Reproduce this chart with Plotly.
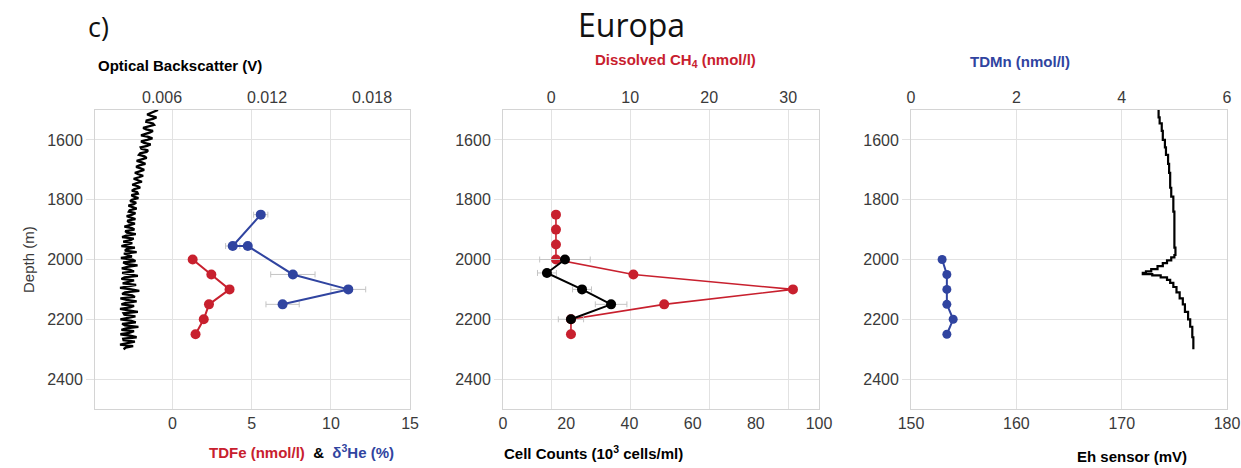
import plotly.graph_objects as go

W, H = 1241, 468

# ---------------- data ----------------
# Panel 1: optical backscatter profile (V) vs depth (m)
obs_depth = [1500, 1505, 1510, 1515, 1520, 1525, 1530, 1535, 1540, 1545,
             1550, 1555, 1560, 1565, 1570, 1575, 1580, 1585, 1590, 1595,
             1600, 1605, 1610, 1615, 1620, 1625, 1630, 1635, 1640, 1645,
             1650, 1655, 1660, 1665, 1670, 1675, 1680, 1685, 1690, 1695,
             1700, 1705, 1710, 1715, 1720, 1725, 1730, 1735, 1740, 1745,
             1750, 1755, 1760, 1765, 1770, 1775, 1780, 1785, 1790, 1795,
             1800, 1805, 1810, 1815, 1820, 1825, 1830, 1835, 1840, 1845,
             1850, 1855, 1860, 1865, 1870, 1875, 1880, 1885, 1890, 1895,
             1900, 1905, 1910, 1915, 1920, 1925, 1930, 1935, 1940, 1945,
             1950, 1955, 1960, 1965, 1970, 1975, 1980, 1985, 1990, 1995,
             2000, 2005, 2010, 2015, 2020, 2025, 2030, 2035, 2040, 2045,
             2050, 2055, 2060, 2065, 2070, 2075, 2080, 2085, 2090, 2095,
             2100, 2105, 2110, 2115, 2120, 2125, 2130, 2135, 2140, 2145,
             2150, 2155, 2160, 2165, 2170, 2175, 2180, 2185, 2190, 2195,
             2200, 2205, 2210, 2215, 2220, 2225, 2230, 2235, 2240, 2245,
             2250, 2255, 2260, 2265, 2270, 2275, 2280, 2285, 2290, 2295, 2300]
obs_volts = [0.00577, 0.00555, 0.00528, 0.00515, 0.00538, 0.00568, 0.00548, 0.00512, 0.00510, 0.00548,
             0.00555, 0.00522, 0.00492, 0.00510, 0.00548, 0.00532, 0.00498, 0.00480, 0.00522, 0.00545,
             0.00515, 0.00480, 0.00498, 0.00535, 0.00515, 0.00478, 0.00482, 0.00520, 0.00512, 0.00475,
             0.00468, 0.00500, 0.00512, 0.00478, 0.00455, 0.00485, 0.00505, 0.00470, 0.00452, 0.00478,
             0.00498, 0.00472, 0.00445, 0.00465, 0.00492, 0.00468, 0.00438, 0.00462, 0.00485, 0.00452,
             0.00430, 0.00462, 0.00475, 0.00440, 0.00428, 0.00458, 0.00462, 0.00425, 0.00440, 0.00465,
             0.00428, 0.00418, 0.00452, 0.00438, 0.00408, 0.00432, 0.00455, 0.00415, 0.00410, 0.00448,
             0.00430, 0.00398, 0.00425, 0.00448, 0.00402, 0.00410, 0.00445, 0.00412, 0.00385, 0.00428,
             0.00442, 0.00390, 0.00400, 0.00450, 0.00395, 0.00372, 0.00438, 0.00420, 0.00378, 0.00430,
             0.00405, 0.00368, 0.00445, 0.00398, 0.00388, 0.00455, 0.00382, 0.00410, 0.00428, 0.00365,
             0.00432, 0.00448, 0.00378, 0.00395, 0.00460, 0.00402, 0.00370, 0.00418, 0.00440, 0.00372,
             0.00415, 0.00462, 0.00385, 0.00368, 0.00440, 0.00402, 0.00375, 0.00452, 0.00410, 0.00360,
             0.00425, 0.00470, 0.00388, 0.00372, 0.00430, 0.00445, 0.00362, 0.00398, 0.00455, 0.00392,
             0.00368, 0.00440, 0.00418, 0.00360, 0.00408, 0.00462, 0.00380, 0.00385, 0.00448, 0.00402,
             0.00362, 0.00425, 0.00450, 0.00372, 0.00388, 0.00465, 0.00395, 0.00368, 0.00440, 0.00412,
             0.00362, 0.00418, 0.00455, 0.00378, 0.00380, 0.00445, 0.00398, 0.00360, 0.00435, 0.00392, 0.00380]

tdfe_depth = [2000, 2050, 2100, 2150, 2200, 2250]
tdfe_val = [1.27, 2.45, 3.6, 2.3, 1.97, 1.45]

he_depth = [1850, 1955, 1955, 2050, 2100, 2150]
he_val = [5.57, 3.8, 4.75, 7.6, 11.1, 6.95]
he_err = [0.45, 0.45, 0.2, 1.4, 1.1, 1.05]

# Panel 2
ch4_depth = [1850, 1900, 1950, 2000, 2050, 2100, 2150, 2200, 2250]
ch4_val = [0.6, 0.6, 0.6, 0.6, 10.4, 30.6, 14.3, 2.5, 2.5]

cell_depth = [2000, 2045, 2100, 2150, 2200]
cell_val = [19.6, 13.9, 25.0, 34.2, 21.5]
cell_err = [8.0, 3.0, 3.0, 5.0, 4.0]

# Panel 3
mn_depth = [2000, 2050, 2100, 2150, 2200, 2250]
mn_val = [0.59, 0.68, 0.68, 0.68, 0.80, 0.68]

eh_depth = [1500, 1525, 1545, 1570, 1600, 1625, 1650, 1680, 1710, 1760, 1790, 1840,
            1960, 1985, 1993, 2003, 2012, 2022, 2032, 2040, 2045, 2049, 2053, 2060,
            2068, 2078, 2092, 2110, 2130, 2150, 2175, 2200, 2225, 2260, 2300]
eh_val = [173.5, 173.6, 173.8, 173.9, 174.1, 174.2, 174.4, 174.5, 174.6, 174.7, 174.9, 175.0,
          175.1, 175.0, 174.7, 174.3, 173.9, 173.4, 172.8, 172.3, 172.0, 172.9, 173.7, 174.3,
          174.6, 174.9, 175.2, 175.5, 175.8, 176.0, 176.3, 176.5, 176.7, 176.8, 176.8]

depth_ticks = [1600, 1800, 2000, 2200, 2400]

# ---------------- styling ----------------
RED = "#c8202e"
BLUE = "#3044a0"
GRID = "#e2e2e2"
FRAME = "#d4d4d4"
TICKC = "#3a3a3a"
FONT = "Liberation Sans, Arial, sans-serif"

# observed horizontal placement of the drawn figure in the photographed window
X_OFF, X_SCALE = 13.0, 0.979


def px_x(p):
    return (p - X_OFF) / (X_SCALE * W)


def px_y(p):
    return 1 - p / H


panels = [(95, 410), (503, 819), (911, 1227)]
ytop, ybot = 110, 409
ydom = [px_y(ybot), px_y(ytop)]

fig = go.Figure()

# Panel 1
fig.add_trace(go.Scatter(x=obs_volts, y=obs_depth, mode="lines",
                         line=dict(color="black", width=2.3),
                         xaxis="x2", yaxis="y", showlegend=False))
fig.add_trace(go.Scatter(x=tdfe_val, y=tdfe_depth, mode="lines+markers",
                         line=dict(color=RED, width=2), marker=dict(color=RED, size=10),
                         xaxis="x", yaxis="y", showlegend=False))
fig.add_trace(go.Scatter(x=he_val, y=he_depth, mode="lines+markers",
                         line=dict(color=BLUE, width=2), marker=dict(color=BLUE, size=10),
                         error_x=dict(type="data", array=he_err, color="#c4c4c4", thickness=1, width=3),
                         xaxis="x", yaxis="y", showlegend=False))

# Panel 2 (CH4 on base top axis, cell counts on overlaid bottom axis -> drawn on top)
fig.add_trace(go.Scatter(x=ch4_val, y=ch4_depth, mode="lines+markers",
                         line=dict(color=RED, width=1.6), marker=dict(color=RED, size=10),
                         xaxis="x3", yaxis="y2", showlegend=False))
fig.add_trace(go.Scatter(x=cell_val, y=cell_depth, mode="lines+markers",
                         line=dict(color="black", width=2), marker=dict(color="black", size=10),
                         error_x=dict(type="data", array=cell_err, color="#c4c4c4", thickness=1, width=3),
                         xaxis="x4", yaxis="y2", showlegend=False))

# Panel 3
fig.add_trace(go.Scatter(x=mn_val, y=mn_depth, mode="lines+markers",
                         line=dict(color=BLUE, width=2), marker=dict(color=BLUE, size=9),
                         xaxis="x6", yaxis="y3", showlegend=False))
fig.add_trace(go.Scatter(x=eh_val, y=eh_depth, mode="lines",
                         line=dict(color="black", width=2.2, shape="vh"),
                         xaxis="x5", yaxis="y3", showlegend=False))

tickfont = dict(family=FONT, size=16, color=TICKC)


def x_axis(side, rng, tickvals, anchor, grid, dom=None, overlay=None):
    d = dict(side=side, range=rng, tickvals=tickvals, anchor=anchor,
             showgrid=grid, gridcolor=GRID, gridwidth=1,
             showline=True, linecolor=FRAME, linewidth=1,
             zeroline=False, ticks="", tickfont=tickfont, fixedrange=True)
    if dom is not None:
        d["domain"] = dom
    if overlay is not None:
        d["overlaying"] = overlay
    return d


def y_axis(anchor):
    return dict(domain=ydom, range=[2500, 1500], tickvals=depth_ticks, anchor=anchor,
                showgrid=True, gridcolor=GRID, gridwidth=1,
                showline=True, linecolor=FRAME, linewidth=1, mirror=True,
                zeroline=False, ticks="outside", ticklen=8, tickcolor=GRID,
                tickfont=tickfont, fixedrange=True)


d1 = [px_x(panels[0][0]), px_x(panels[0][1])]
d2 = [px_x(panels[1][0]), px_x(panels[1][1])]
d3 = [px_x(panels[2][0]), px_x(panels[2][1])]

fig.update_layout(
    width=W, height=H, autosize=False,
    margin=dict(l=0, r=0, t=0, b=0),
    paper_bgcolor="white", plot_bgcolor="white",
    font=dict(family=FONT, color=TICKC),
    xaxis=x_axis("bottom", [-4.9, 15], [0, 5, 10, 15], "y", True, dom=d1),
    xaxis2=x_axis("top", [0.00217, 0.02017], [0.006, 0.012, 0.018], "y", False, overlay="x"),
    yaxis=y_axis("x"),
    xaxis3=x_axis("top", [-6.1, 33.9], [0, 10, 20, 30], "y2", True, dom=d2),
    xaxis4=x_axis("bottom", [0, 100], [0, 20, 40, 60, 80, 100], "y2", False, overlay="x3"),
    yaxis2=y_axis("x3"),
    xaxis5=x_axis("bottom", [150, 180], [150, 160, 170, 180], "y3", True, dom=d3),
    xaxis6=x_axis("top", [0, 6], [0, 2, 4, 6], "y3", False, overlay="x5"),
    yaxis3=y_axis("x5"),
)
fig.update_layout(xaxis2=dict(tickformat=".3f"))

bold = dict(family=FONT, size=15, color="black")
ann = [
    dict(x=px_x(86), y=px_y(26), text="c)", xanchor="left", yanchor="middle",
         font=dict(family="Open Sans, sans-serif", size=27, color="#111")),
    dict(x=px_x(631), y=px_y(24), text="Europa", xanchor="center", yanchor="middle",
         font=dict(family="Open Sans, sans-serif", size=32, color="#111")),
    dict(x=px_x(96), y=px_y(66), text="<b>Optical Backscatter (V)</b>", xanchor="left", yanchor="middle",
         font=bold),
    dict(x=px_x(593), y=px_y(61), text="<b>Dissolved CH<sub>4</sub> (nmol/l)</b>", xanchor="left",
         yanchor="middle", font=dict(family=FONT, size=15, color=RED)),
    dict(x=px_x(968), y=px_y(62), text="<b>TDMn (nmol/l)</b>", xanchor="left", yanchor="middle",
         font=dict(family=FONT, size=15, color=BLUE)),
    dict(x=px_x(207), y=px_y(451),
         text="<b><span style='color:%s'>TDFe (nmol/l)</span>  &amp;  <span style='color:%s'>δ<sup>3</sup>He (%%)</span></b>" % (RED, BLUE),
         xanchor="left", yanchor="middle", font=bold),
    dict(x=px_x(502), y=px_y(452), text="<b>Cell Counts (10<sup>3</sup> cells/ml)</b>", xanchor="left",
         yanchor="middle", font=bold),
    dict(x=px_x(1075), y=px_y(456), text="<b>Eh sensor (mV)</b>", xanchor="left", yanchor="middle",
         font=bold),
    dict(x=px_x(28), y=px_y(260), text="Depth (m)", textangle=-90, xanchor="center", yanchor="middle",
         font=dict(family=FONT, size=15, color=TICKC)),
]
for a in ann:
    a.update(xref="paper", yref="paper", showarrow=False)
fig.update_layout(annotations=ann)

fig.write_html("out.html", config={"displayModeBar": False},
               post_script="document.body.style.margin='0';document.body.style.padding='0';")
